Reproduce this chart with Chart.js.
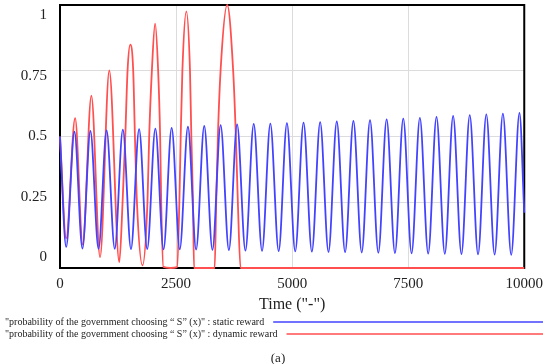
<!DOCTYPE html>
<html>
<head>
<meta charset="utf-8">
<script src="https://cdn.jsdelivr.net/npm/chart.js"></script>
<style>
  body { margin: 0; background: #fff; }
  canvas { display: block; }
</style>
</head>
<body>
<canvas id="grafico" width="550" height="364"></canvas>
<script>
// values (time, probability)
const blueTime = [0, 133, 311, 483, 655, 830, 1004, 1179, 1354, 1529, 1704, 1879, 2054, 2230, 2405, 2580, 2756, 2932, 3107, 3284,
  3460, 3638, 3815, 3994, 4173, 4352, 4531, 4710, 4888, 5067, 5246, 5425, 5604, 5783, 5962, 6141, 6320, 6499, 6678, 6857,
  7036, 7215, 7394, 7573, 7752, 7931, 8110, 8289, 8468, 8647, 8826, 9005, 9183, 9362, 9540, 9719, 9897, 10000];
const blueValue = [0.5, 0.080, 0.518, 0.074, 0.521, 0.073, 0.523, 0.073, 0.526, 0.072, 0.528, 0.072, 0.530, 0.071, 0.533, 0.071, 0.537, 0.070, 0.540, 0.069,
  0.543, 0.068, 0.546, 0.066, 0.548, 0.065, 0.549, 0.064, 0.551, 0.063, 0.553, 0.062, 0.555, 0.061, 0.557, 0.060, 0.559, 0.059, 0.562, 0.058,
  0.565, 0.057, 0.568, 0.056, 0.571, 0.055, 0.575, 0.054, 0.578, 0.053, 0.581, 0.052, 0.584, 0.051, 0.587, 0.050, 0.590, 0.21];

const redTime = [0, 133, 326, 489, 676, 863, 1062, 1277, 1348, 1406, 1455, 1513, 1577, 1614, 1657, 1777, 1884, 1921, 1979, 2049,
  2114, 2157, 2180, 2225, 2380, 2522, 2571, 2600, 2636, 2721, 2800, 2829, 2865, 2887, 3100, 3331, 3365, 3401, 3459, 3601,
  3730, 3788, 3831, 3889, 10000];
const redValue = [0.5, 0.113, 0.57, 0.09, 0.655, 0.041, 0.751, 0.022, 0.25, 0.5, 0.75, 0.849, 0.75, 0.5, 0.25, 0.01, 0.25, 0.5, 0.75, 0.929,
  0.75, 0.5, 0.25, 0.004, 0, 0.003, 0.25, 0.5, 0.75, 0.976, 0.75, 0.5, 0.25, 0, 0, 0, 0.25, 0.5, 0.75, 1.0,
  0.75, 0.5, 0.25, 0, 0];

const xTicks = [0, 2500, 5000, 7500, 10000];
const yTicks = [0, 0.25, 0.5, 0.75, 1];
const seriesNames = [
  '"probability of the government choosing \u201c S\u201d (x)" : static reward',
  '"probability of the government choosing \u201c S\u201d (x)" : dynamic reward'
];
const seriesColors = ['#4343ff', '#ff4f4f'];

function pontos(xs, ys) {
  return xs.map((x, i) => ({ x: x, y: ys[i] }));
}

const serif = "'Liberation Serif', 'Times New Roman', serif";

// frame under the lines, y labels, legend and caption on top
const extras = {
  id: 'extras',
  beforeDatasetsDraw(chart) {
    const { ctx, chartArea: a } = chart;
    ctx.save();
    ctx.strokeStyle = '#000';
    ctx.lineWidth = 2;
    ctx.strokeRect(a.left, a.top, a.right - a.left, a.bottom - a.top);
    ctx.restore();
  },
  afterDraw(chart) {
    const { ctx, chartArea: a } = chart;
    const y = chart.scales.y;
    ctx.save();
    ctx.fillStyle = '#222';
    ctx.font = '15px ' + serif;
    ctx.textAlign = 'right';
    ctx.textBaseline = 'middle';
    yTicks.forEach(v => {
      const pos = y.getPixelForValue(0.5 + (v - 0.5) * 0.92);
      ctx.fillText(String(v), a.left - 13, pos);
    });

    ctx.font = '10px ' + serif;
    ctx.textAlign = 'left';
    const linhas = [322, 334];
    seriesNames.forEach((nome, i) => {
      ctx.fillStyle = '#222';
      ctx.fillText(nome, 5, linhas[i]);
      const w = ctx.measureText(nome).width;
      ctx.strokeStyle = seriesColors[i];
      ctx.lineWidth = 1.5;
      ctx.beginPath();
      ctx.moveTo(5 + w + 9, linhas[i]);
      ctx.lineTo(543, linhas[i]);
      ctx.stroke();
    });

    ctx.fillStyle = '#222';
    ctx.font = '13px ' + serif;
    ctx.textAlign = 'center';
    ctx.fillText('(a)', 278, 359);
    ctx.restore();
  }
};

const ctx = document.getElementById('grafico').getContext('2d');
const grafico = new Chart(ctx, {
  type: 'line',
  data: {
    datasets: [
      {
        label: seriesNames[0],
        data: pontos(blueTime, blueValue),
        borderColor: seriesColors[0],
        borderWidth: 1.8,
        pointRadius: 0,
        cubicInterpolationMode: 'monotone',
        clip: 4
      },
      {
        label: seriesNames[1],
        data: pontos(redTime, redValue),
        borderColor: seriesColors[1],
        borderWidth: 1.8,
        pointRadius: 0,
        cubicInterpolationMode: 'monotone',
        clip: 4
      }
    ]
  },
  options: {
    responsive: false,
    animation: false,
    layout: { padding: { left: 0, right: 23, top: 5, bottom: 50 } },
    plugins: {
      legend: { display: false },
      tooltip: { enabled: false }
    },
    scales: {
      x: {
        type: 'linear',
        min: 0,
        max: 10000,
        afterBuildTicks: (scale) => { scale.ticks = xTicks.map(v => ({ value: v })); },
        afterFit: (scale) => { scale.height = 46; },
        border: { display: false },
        grid: {
          color: (c) => (c.tick.value === 0 || c.tick.value === 10000) ? 'rgba(0,0,0,0)' : '#dcdcdc',
          drawTicks: false
        },
        ticks: {
          padding: 7,
          color: '#222',
          font: { family: serif, size: 15 },
          maxRotation: 0,
          callback: (v) => String(v)
        },
        title: {
          display: true,
          text: 'Time ("-")',
          color: '#222',
          padding: 0,
          font: { family: serif, size: 16 }
        }
      },
      y: {
        min: 0,
        max: 1,
        afterBuildTicks: (scale) => { scale.ticks = yTicks.map(v => ({ value: v })); },
        afterFit: (scale) => { scale.width = 60; },
        border: { display: false },
        grid: {
          color: (c) => (c.tick.value === 0 || c.tick.value === 1) ? 'rgba(0,0,0,0)' : '#dcdcdc',
          drawTicks: false
        },
        ticks: { display: false }
      }
    }
  },
  plugins: [extras]
});
</script>
</body>
</html>
